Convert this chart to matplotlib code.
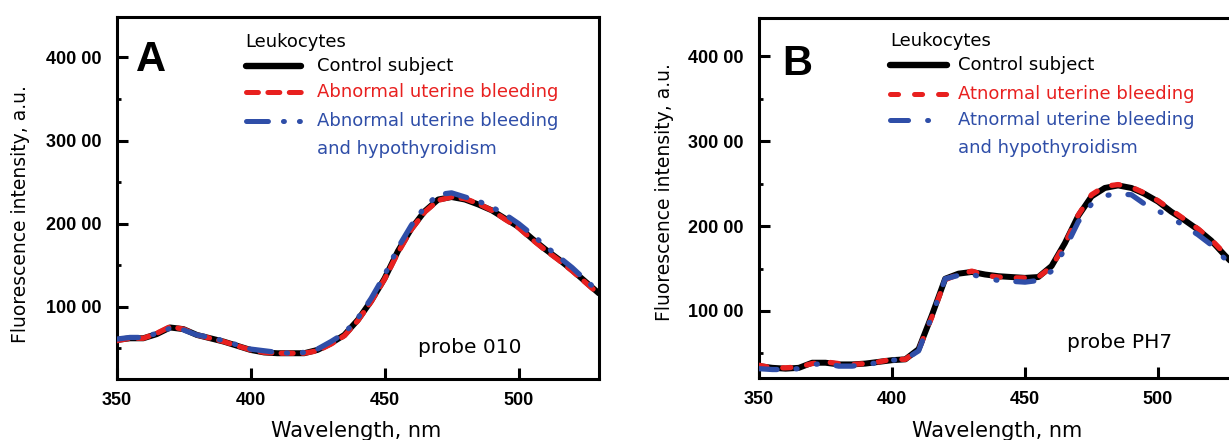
import matplotlib
matplotlib.use("Agg")
import matplotlib.pyplot as plt
from matplotlib.lines import Line2D
from matplotlib.ticker import FixedLocator, FuncFormatter

plt.rcParams['lines.scale_dashes'] = False

# ---------------- data ----------------
wavelength = [350, 355, 360, 365, 370, 375, 380, 385, 390, 395, 400, 405, 410,
              415, 420, 425, 430, 435, 440, 445, 450, 455, 460, 465, 470, 475,
              480, 485, 490, 495, 500, 505, 510, 515, 520, 525, 530]

# Panel A (probe 010), fluorescence intensity, a.u.
a_control = [6000, 6200, 6200, 6700, 7500, 7300, 6600, 6200, 5800, 5300, 4800, 4500, 4400,
             4400, 4400, 4800, 5600, 6600, 8400, 10700, 13400, 16700, 19400, 21500, 22900, 23200,
             22900, 22300, 21600, 20600, 19600, 18200, 16900, 15700, 14400, 13000, 11600]
a_aub = [5900, 6200, 6200, 6800, 7600, 7300, 6600, 6200, 5800, 5300, 4800, 4500, 4400,
         4400, 4400, 4700, 5500, 6500, 8300, 10600, 13300, 16500, 19300, 21400, 22800, 23200,
         23000, 22400, 21600, 20500, 19500, 18100, 16800, 15600, 14300, 12900, 11500]
a_aub_hypo = [6100, 6300, 6300, 6800, 7400, 7200, 6600, 6300, 5900, 5400, 4900, 4700, 4500,
              4400, 4500, 4900, 5800, 6800, 8600, 11000, 13800, 17100, 19800, 22000, 23500, 23700,
              23200, 22700, 22000, 21100, 20000, 18700, 17300, 16000, 14700, 13200, 11800]

# Panel B (probe PH7)
b_control = [3500, 3300, 3200, 3300, 3900, 3900, 3700, 3700, 3800, 4000, 4200, 4300, 5500,
             9500, 13800, 14400, 14600, 14300, 14100, 14000, 13900, 14000, 15300, 18000, 21200, 23500,
             24500, 24800, 24500, 23800, 22900, 21700, 20700, 19600, 18300, 16600, 15000]
b_aub = [3600, 3300, 3300, 3400, 3800, 4000, 3800, 3700, 3800, 4000, 4300, 4300, 5400,
         9300, 13700, 14300, 14700, 14200, 14000, 13900, 13900, 14000, 15200, 17900, 21300, 23700,
         24700, 24900, 24600, 23900, 23000, 21900, 20800, 19700, 18400, 16800, 15100]
b_aub_hypo = [3200, 3100, 3100, 3200, 3700, 3800, 3500, 3500, 3700, 3900, 4200, 4300, 5300,
              9400, 13800, 14200, 14300, 13900, 13600, 13500, 13400, 13600, 14700, 17300, 20500, 22600,
              23600, 23800, 23700, 22600, 21800, 21000, 20000, 19000, 17800, 16200, 14700]

x_ticks = [350, 400, 450, 500]
y_ticks = [10000, 20000, 30000, 40000]
y_minor = [5000, 15000, 25000, 35000]

legend_title = "Leukocytes"
labels_A = ["Control subject", "Abnormal uterine bleeding",
            "Abnormal uterine bleeding", "and hypothyroidism"]
labels_B = ["Control subject", "Atnormal uterine bleeding",
            "Atnormal uterine bleeding", "and hypothyroidism"]

# ---------------- style ----------------
W, H = 1229, 440
RED = "#e8201f"
BLUE = "#2f4ea8"
BLACK = "#000000"
TICKFONT = ['Liberation Sans', 'DejaVu Sans']

def fx(px):
    return px / W

def fy(py):
    return 1 - py / H

fig = plt.figure(figsize=(W / 100, H / 100), dpi=100)

panels = [
    dict(rect=[fx(116.5), fy(379), fx(599) - fx(116.5), fy(16.7) - fy(379)],
         ylim=(1300, 44900), c=a_control, r=a_aub, b=a_aub_hypo,
         red_dash=(8.6, 6.8), blue_dash=(15.8, 10.8, 0.7, 10.8, 0.7, 10.8),
         letter="A", letter_pos=(136, 60), probe="probe 010", probe_pos=(418, 347),
         ylab_pos=(21, 214), xlab_pos=(356, 431),
         title_pos=(245, 42), line_x=(243, 304), text_x=317,
         rows=(65.7, 92, 120.7, 149), labels=labels_A),
    dict(rect=[fx(759), fy(378), fx(1237.8) - fx(759), fy(18.3) - fy(378)],
         ylim=(2100, 44500), c=b_control, r=b_aub, b=b_aub_hypo,
         red_dash=(5.8, 11.5), blue_dash=(13.0, 13.7, 0.7, 14.4, 0.7, 13.7),
         letter="B", letter_pos=(782, 64), probe="probe PH7", probe_pos=(1067, 342),
         ylab_pos=(665, 192), xlab_pos=(997, 431),
         title_pos=(890, 41), line_x=(887, 950), text_x=958,
         rows=(65, 94, 120, 148), labels=labels_B),
]

for p in panels:
    ax = fig.add_axes(p['rect'])
    ax.plot(wavelength, p['c'], color=BLACK, lw=4.3, solid_capstyle='round',
            solid_joinstyle='round', zorder=2)
    ax.plot(wavelength, p['r'], color=RED, lw=3.8, dashes=p['red_dash'],
            dash_capstyle='round', zorder=3)
    ax.plot(wavelength, p['b'], color=BLUE, lw=3.8, dashes=p['blue_dash'],
            dash_capstyle='round', zorder=4)

    ax.set_xlim(350, 530)
    ax.set_ylim(*p['ylim'])
    ax.xaxis.set_major_locator(FixedLocator(x_ticks))
    ax.yaxis.set_major_locator(FixedLocator(y_ticks))
    ax.yaxis.set_minor_locator(FixedLocator(y_minor))
    ax.yaxis.set_major_formatter(FuncFormatter(lambda v, pos: f"{int(round(v / 100))} 00"))
    for s in ax.spines.values():
        s.set_linewidth(2.2)
    ax.tick_params(axis='both', which='major', direction='in', length=8, width=2.2,
                   labelsize=13)
    ax.tick_params(axis='x', which='major', pad=9)
    ax.tick_params(axis='y', which='major', pad=11)
    ax.tick_params(axis='y', which='minor', direction='in', length=3, width=2.0)
    for lab in ax.get_xticklabels() + ax.get_yticklabels():
        lab.set_family(TICKFONT)
        lab.set_fontweight('bold')

    # panel letter and probe text
    fig.text(fx(p['letter_pos'][0]), fy(p['letter_pos'][1]), p['letter'],
             fontsize=30, fontweight='bold', ha='left', va='center',
             family=['Liberation Sans', 'DejaVu Sans'])
    fig.text(fx(p['probe_pos'][0]), fy(p['probe_pos'][1]), p['probe'],
             fontsize=14.5, ha='left', va='center', color=BLACK)

    # axis labels
    fig.text(fx(p['ylab_pos'][0]), fy(p['ylab_pos'][1]), "Fluorescence intensity, a.u.",
             fontsize=13.5, rotation=90, ha='center', va='center')
    fig.text(fx(p['xlab_pos'][0]), fy(p['xlab_pos'][1]), "Wavelength, nm",
             fontsize=15, ha='center', va='center')

    # legend (drawn manually to match layout)
    fig.text(fx(p['title_pos'][0]), fy(p['title_pos'][1]), legend_title,
             fontsize=13, ha='left', va='center', color=BLACK)
    x0, x1 = p['line_x']
    rows = p['rows']
    fig.add_artist(Line2D([fx(x0 + 3), fx(x1 - 3)], [fy(rows[0])] * 2, transform=fig.transFigure,
                          color=BLACK, lw=4.6, solid_capstyle='round'))
    fig.add_artist(Line2D([fx(x0 + 3), fx(x1 - 3)], [fy(rows[1])] * 2, transform=fig.transFigure,
                          color=RED, lw=3.6, dashes=p['red_dash'], dash_capstyle='round'))
    fig.add_artist(Line2D([fx(x0 + 3), fx(x1 - 3)], [fy(rows[2])] * 2, transform=fig.transFigure,
                          color=BLUE, lw=3.6, dashes=p['blue_dash'], dash_capstyle='round'))
    colors = [BLACK, RED, BLUE, BLUE]
    for lab, yy, col in zip(p['labels'], rows, colors):
        fig.text(fx(p['text_x']), fy(yy), lab, fontsize=13, ha='left', va='center', color=col)

fig.savefig("out.png", dpi=100)
